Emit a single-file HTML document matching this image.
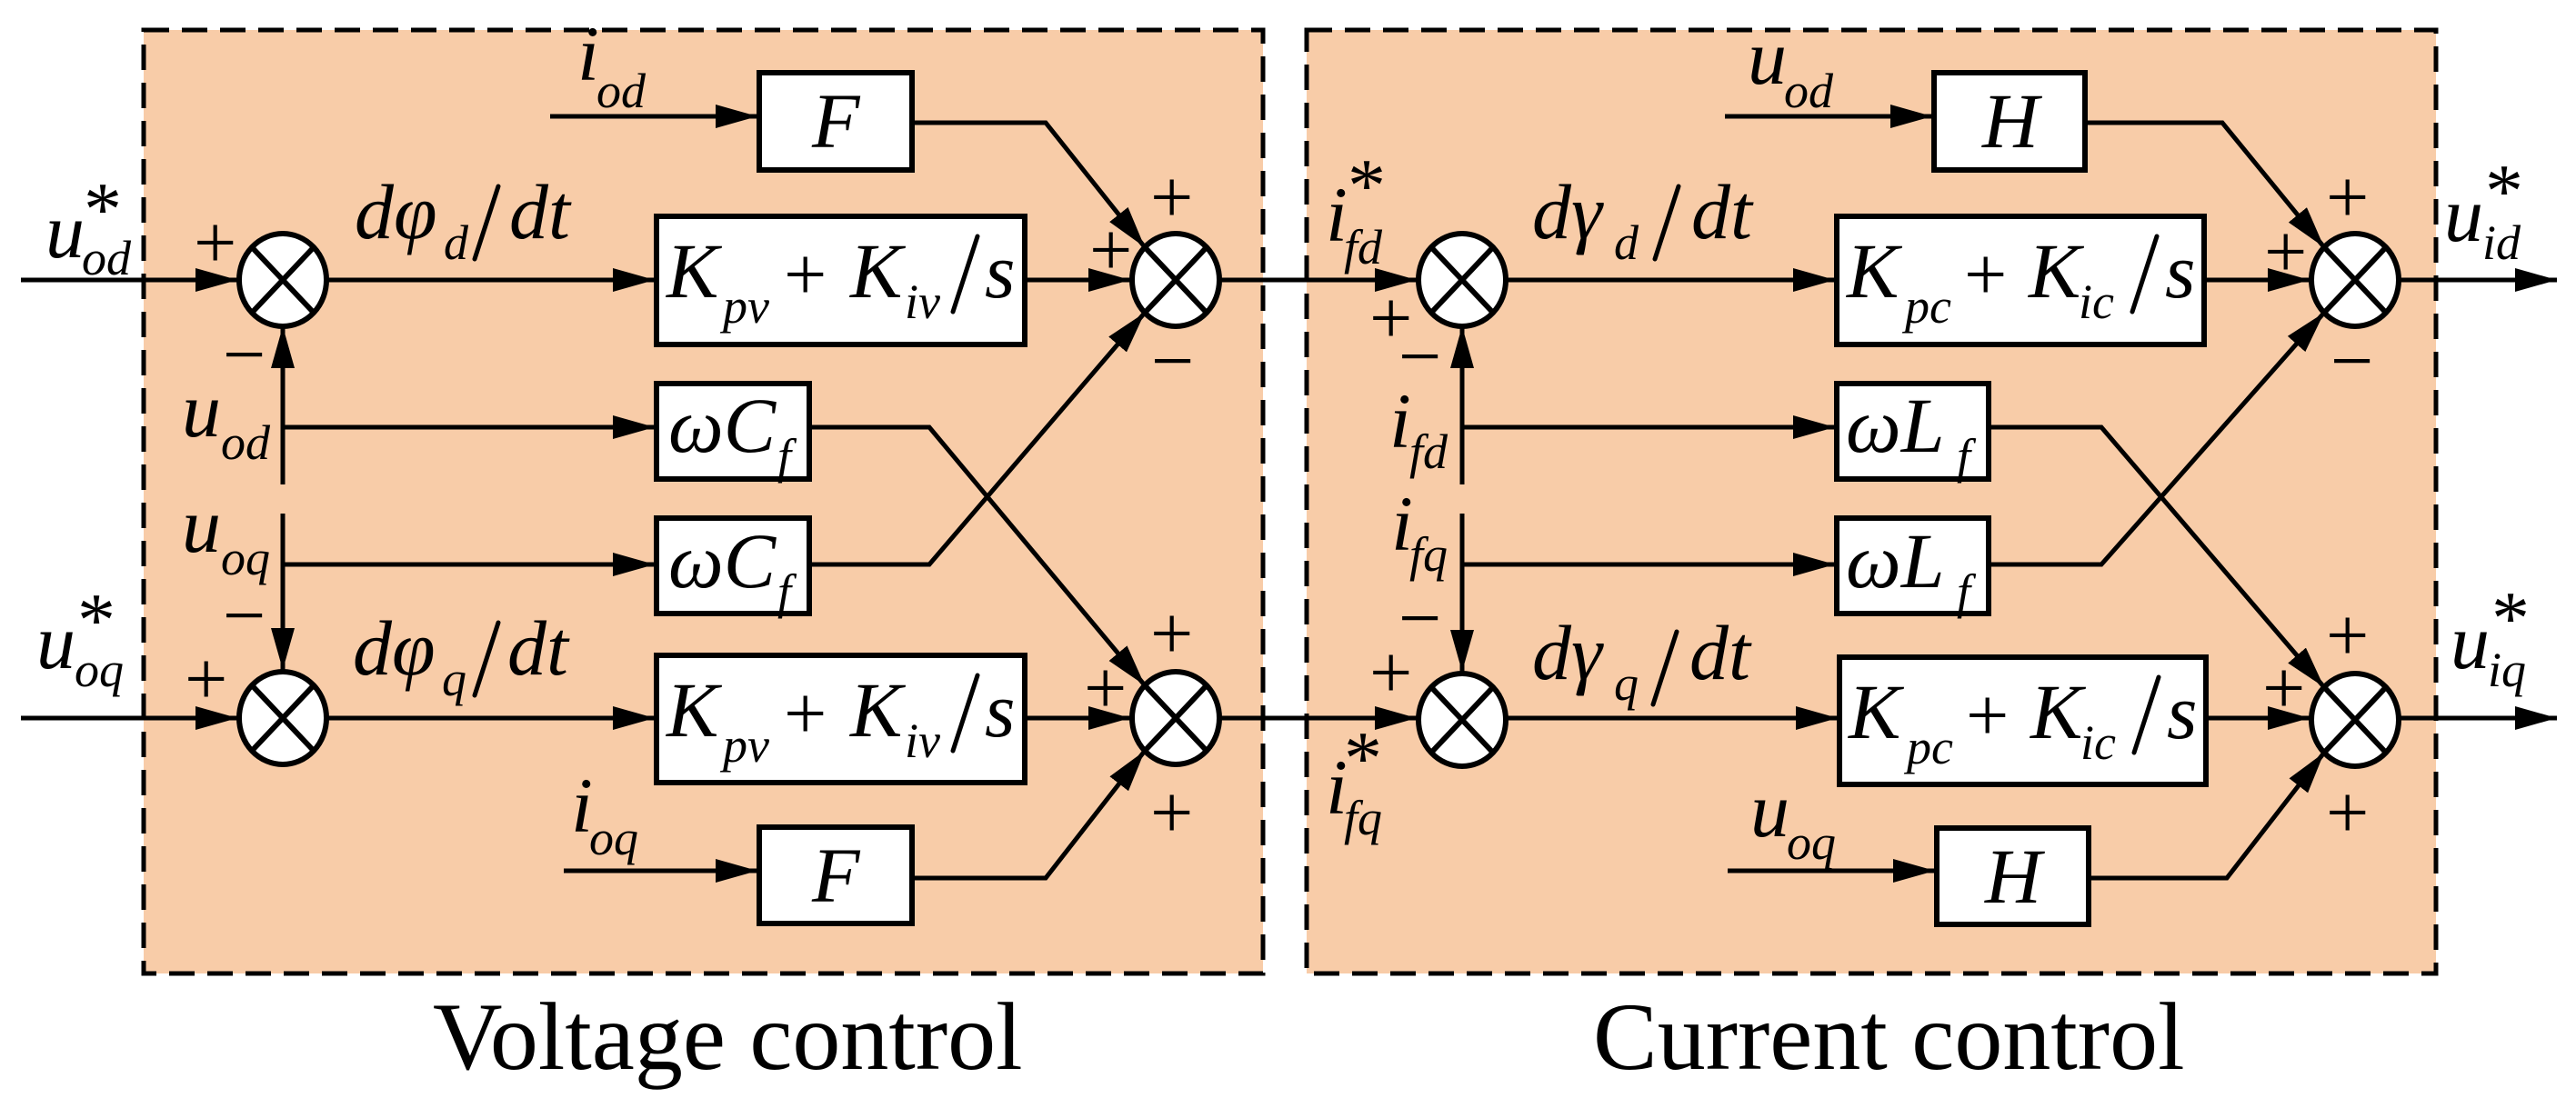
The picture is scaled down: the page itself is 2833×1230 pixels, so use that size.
<!DOCTYPE html>
<html><head><meta charset="utf-8"><style>
html,body{margin:0;padding:0;background:#fff;}
svg{display:block;}
svg text{font-family:"Liberation Serif","Times New Roman","DejaVu Serif",serif !important;fill:#000;}
.m{font-size:86px;font-style:italic;}
.s{font-size:54px;font-style:italic;}
.p{font-size:84px;font-style:normal;}
.t{font-size:106px;}
</style></head><body>
<svg width="2833" height="1230" viewBox="0 0 2833 1230" xmlns="http://www.w3.org/2000/svg" font-family="Liberation Serif, serif">
<defs>
<marker id="a" markerUnits="userSpaceOnUse" markerWidth="48" markerHeight="28" refX="46" refY="13" orient="auto">
<path d="M0,0 L46,13 L0,26 z" fill="#000"/></marker>
</defs>
<rect x="158" y="33" width="1231" height="1038" fill="#F8CCA8" stroke="#000" stroke-width="5" stroke-dasharray="28 14"/>
<rect x="1437" y="33" width="1242" height="1038" fill="#F8CCA8" stroke="#000" stroke-width="5" stroke-dasharray="28 14"/>
<g stroke="#000" stroke-width="5" fill="none">
<path d="M23,308 H261" marker-end="url(#a)"/>
<path d="M359,308 H720" marker-end="url(#a)"/>
<path d="M1128,308 H1243" marker-end="url(#a)"/>
<path d="M1341,308 H1558" marker-end="url(#a)"/>
<path d="M311,533 V359" marker-end="url(#a)"/>
<path d="M311,470 H720" marker-end="url(#a)"/>
<path d="M311,565 V737" marker-end="url(#a)"/>
<path d="M311,621 H720" marker-end="url(#a)"/>
<path d="M23,790 H261" marker-end="url(#a)"/>
<path d="M359,790 H720" marker-end="url(#a)"/>
<path d="M1128,790 H1243" marker-end="url(#a)"/>
<path d="M1341,790 H1558" marker-end="url(#a)"/>
<path d="M605,128 H833" marker-end="url(#a)"/>
<path d="M1003,135 H1150 L1259,272" marker-end="url(#a)"/>
<path d="M890,470 H1022 L1259,754" marker-end="url(#a)"/>
<path d="M890,621 H1022 L1259,344" marker-end="url(#a)"/>
<path d="M620,958 H833" marker-end="url(#a)"/>
<path d="M1003,966 H1150 L1259,826" marker-end="url(#a)"/>

<path d="M1656,308 H2018" marker-end="url(#a)"/>
<path d="M2424,308 H2540" marker-end="url(#a)"/>
<path d="M2638,308 H2812" marker-end="url(#a)"/>
<path d="M1608,533 V359" marker-end="url(#a)"/>
<path d="M1608,470 H2018" marker-end="url(#a)"/>
<path d="M1608,565 V739" marker-end="url(#a)"/>
<path d="M1608,621 H2018" marker-end="url(#a)"/>
<path d="M1656,790 H2021" marker-end="url(#a)"/>
<path d="M2426,790 H2540" marker-end="url(#a)"/>
<path d="M2638,790 H2812" marker-end="url(#a)"/>
<path d="M1897,128 H2125" marker-end="url(#a)"/>
<path d="M2293,135 H2444 L2556,272" marker-end="url(#a)"/>
<path d="M2187,470 H2311 L2556,756" marker-end="url(#a)"/>
<path d="M2187,621 H2311 L2556,344" marker-end="url(#a)"/>
<path d="M1900,958 H2128" marker-end="url(#a)"/>
<path d="M2297,966 H2449 L2556,828" marker-end="url(#a)"/>
</g>
<g stroke="#000" stroke-width="6" fill="#fff">
<rect x="722" y="238" width="405" height="141"/>
<rect x="722" y="721" width="405" height="140"/>
<rect x="835" y="80" width="168" height="107"/>
<rect x="835" y="910" width="168" height="106"/>
<rect x="722" y="422" width="168" height="105"/>
<rect x="722" y="570" width="168" height="105"/>
<rect x="2020" y="238" width="404" height="141"/>
<rect x="2023" y="723" width="403" height="140"/>
<rect x="2127" y="80" width="166" height="107"/>
<rect x="2130" y="911" width="167" height="106"/>
<rect x="2020" y="422" width="167" height="105"/>
<rect x="2020" y="570" width="167" height="105"/>
</g>
<g stroke="#000" stroke-width="6">
<ellipse cx="311" cy="308" rx="48" ry="51" fill="#fff"/><path d="M277,272 L345,344 M345,272 L277,344"/>
<ellipse cx="311" cy="790" rx="48" ry="51" fill="#fff"/><path d="M277,754 L345,826 M345,754 L277,826"/>
<ellipse cx="1293" cy="308" rx="48" ry="51" fill="#fff"/><path d="M1259,272 L1327,344 M1327,272 L1259,344"/>
<ellipse cx="1293" cy="790" rx="48" ry="51" fill="#fff"/><path d="M1259,754 L1327,826 M1327,754 L1259,826"/>
<ellipse cx="1608" cy="308" rx="48" ry="51" fill="#fff"/><path d="M1574,272 L1642,344 M1642,272 L1574,344"/>
<ellipse cx="1608" cy="792" rx="48" ry="51" fill="#fff"/><path d="M1574,756 L1642,828 M1642,756 L1574,828"/>
<ellipse cx="2590" cy="308" rx="48" ry="51" fill="#fff"/><path d="M2556,272 L2624,344 M2624,272 L2556,344"/>
<ellipse cx="2590" cy="792" rx="48" ry="51" fill="#fff"/><path d="M2556,756 L2624,828 M2624,756 L2556,828"/>
</g>
<g font-family="Liberation Serif, serif">
<text class="m" x="733" y="327">K</text><text class="s" x="795" y="355">pv</text><text class="p" x="862" y="330">+</text>
<text class="m" x="935" y="327">K</text><text class="s" x="995" y="350">iv</text><text class="m" x="1083" y="327">s</text>
<text class="m" x="733" y="810">K</text><text class="s" x="795" y="838">pv</text><text class="p" x="862" y="813">+</text>
<text class="m" x="935" y="810">K</text><text class="s" x="995" y="833">iv</text><text class="m" x="1083" y="810">s</text>
<text class="m" x="2031" y="327">K</text><text class="s" x="2095" y="355">pc</text><text class="p" x="2160" y="330">+</text>
<text class="m" x="2231" y="327">K</text><text class="s" x="2286" y="350">ic</text><text class="m" x="2381" y="327">s</text>
<text class="m" x="2033" y="812">K</text><text class="s" x="2097" y="840">pc</text><text class="p" x="2162" y="815">+</text>
<text class="m" x="2233" y="812">K</text><text class="s" x="2288" y="835">ic</text><text class="m" x="2383" y="812">s</text>
<text class="m" x="893" y="162">F</text><text class="m" x="893" y="992">F</text>
<text class="m" x="2180" y="162">H</text><text class="m" x="2183" y="993">H</text>
<text class="m" x="735" y="497">ωC</text><text class="s" x="855" y="520">f</text>
<text class="m" x="735" y="646">ωC</text><text class="s" x="855" y="669">f</text>
<text class="m" x="2030" y="497">ωL</text><text class="s" x="2152" y="520">f</text>
<text class="m" x="2030" y="646">ωL</text><text class="s" x="2152" y="669">f</text>
</g>
<g stroke="#000" stroke-width="5" stroke-linecap="round">
<path d="M1048,343 L1075,260 M1048,826 L1075,743 M2345,343 L2372,260 M2347,828 L2374,745"/>
<path d="M522,285 L548,205 M522,765 L548,685 M1820,285 L1846,205 M1818,775 L1844,695"/>
</g>
<g font-family="Liberation Serif, serif">
<text class="m" x="50" y="283">u</text><text class="s" x="90" y="302">od</text><text class="p" x="92" y="258">*</text>
<text class="m" x="40" y="735">u</text><text class="s" x="82" y="755">oq</text><text class="p" x="85" y="710">*</text>
<text class="p" x="213" y="295">+</text><text class="p" x="245" y="418">−</text>
<text class="p" x="203" y="775">+</text><text class="p" x="245" y="705">−</text>
<text class="m" x="200" y="480">u</text><text class="s" x="243" y="505">od</text>
<text class="m" x="200" y="607">u</text><text class="s" x="243" y="632">oq</text>
<text class="m" x="635" y="88">i</text><text class="s" x="656" y="118">od</text>
<text class="m" x="628" y="915">i</text><text class="s" x="648" y="940">oq</text>
<text class="m" x="390" y="262">dφ</text><text class="s" x="488" y="285">d</text><text class="m" x="560" y="262">dt</text>
<text class="m" x="388" y="742">dφ</text><text class="s" x="486" y="765">q</text><text class="m" x="558" y="742">dt</text>
<text class="p" x="1265" y="245">+</text><text class="p" x="1198" y="303">+</text><text class="p" x="1266" y="425">−</text>
<text class="p" x="1265" y="725">+</text><text class="p" x="1192" y="785">+</text><text class="p" x="1265" y="922">+</text>

<text class="m" x="1458" y="265">i</text><text class="s" x="1478" y="290">fd</text><text class="p" x="1482" y="232">*</text>
<text class="m" x="1458" y="895">i</text><text class="s" x="1478" y="918">fq</text><text class="p" x="1478" y="862">*</text>
<text class="p" x="1506" y="378">+</text><text class="p" x="1538" y="420">−</text>
<text class="p" x="1506" y="768">+</text><text class="p" x="1538" y="708">−</text>
<text class="m" x="1528" y="492">i</text><text class="s" x="1550" y="515">fd</text>
<text class="m" x="1530" y="605">i</text><text class="s" x="1550" y="628">fq</text>
<text class="m" x="1922" y="92">u</text><text class="s" x="1962" y="118">od</text>
<text class="m" x="1925" y="920">u</text><text class="s" x="1965" y="945">oq</text>
<text class="m" x="1685" y="262">dγ</text><text class="s" x="1775" y="285">d</text><text class="m" x="1860" y="262">dt</text>
<text class="m" x="1685" y="747">dγ</text><text class="s" x="1775" y="770">q</text><text class="m" x="1858" y="747">dt</text>
<text class="p" x="2558" y="245">+</text><text class="p" x="2490" y="305">+</text><text class="p" x="2563" y="425">−</text>
<text class="p" x="2558" y="727">+</text><text class="p" x="2488" y="785">+</text><text class="p" x="2558" y="922">+</text>
<text class="m" x="2688" y="265">u</text><text class="s" x="2730" y="285">id</text><text class="p" x="2733" y="238">*</text>
<text class="m" x="2695" y="735">u</text><text class="s" x="2736" y="755">iq</text><text class="p" x="2740" y="708">*</text>

<text class="t" x="476" y="1176">Voltage control</text>
<text class="t" x="1752" y="1176">Current control</text>
</g>
</svg>
</body></html>
